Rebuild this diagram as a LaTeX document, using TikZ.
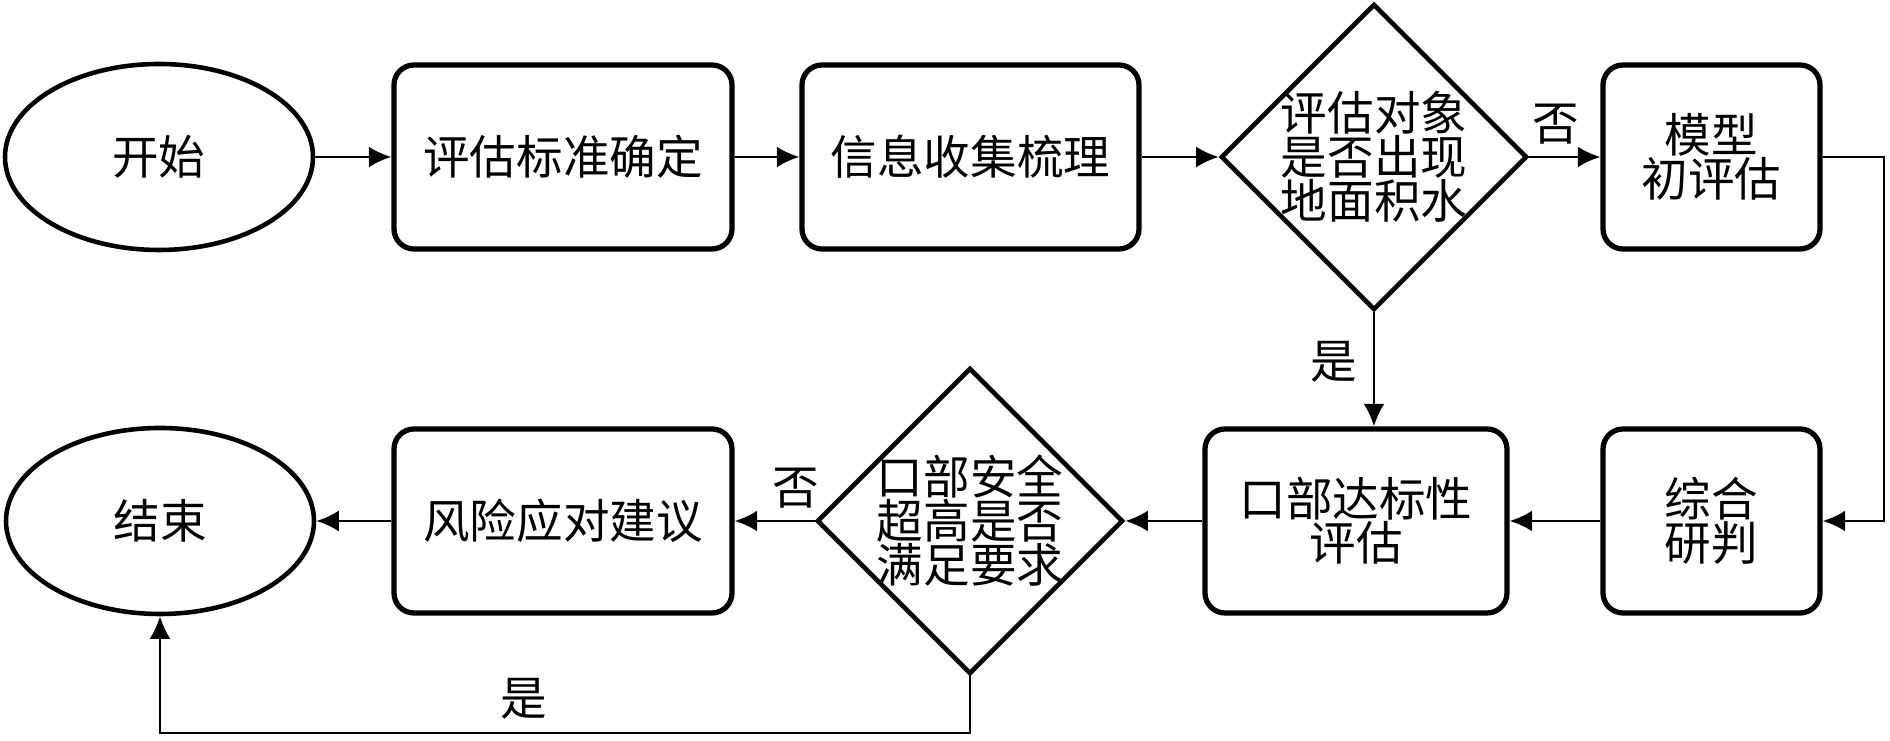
\documentclass[tikz,border=0pt]{standalone}
\usepackage{fontspec}
\setmainfont{Noto Sans CJK SC}
\usetikzlibrary{shapes.geometric,arrows.meta}

\begin{document}
\begin{tikzpicture}[
  box/.style={draw,line width=3pt,rounded corners=0.4cm,minimum height=3.68cm,align=center},
  term/.style={draw,ellipse,line width=2.6pt,minimum width=6.16cm,minimum height=3.72cm},
  decide/.style={draw,diamond,line width=2.6pt,minimum width=6.12cm,minimum height=6.12cm,inner sep=-0.15cm,align=center},
  flow/.style={line width=1.6pt,-{Latex[length=0.45cm,width=0.42cm]}},
  font=\fontsize{26.5pt}{25pt}\selectfont]
  \useasboundingbox (0,0) rectangle (37.8,14.82);

  \node[term] (start) at (3.18,11.68) {开始};
  \node[box,minimum width=6.76cm] (std) at (11.26,11.68) {评估标准确定};
  \node[box,minimum width=6.74cm] (info) at (19.41,11.68) {信息收集梳理};
  \node[decide] (water) at (27.48,11.68) {评估对象\\是否出现\\地面积水};
  \node[box,minimum width=4.34cm] (model) at (34.23,11.68) {模型\\初评估};

  \node[box,minimum width=4.34cm] (judge) at (34.23,4.40) {综合\\研判};
  \node[box,minimum width=6.04cm] (eval) at (27.12,4.40) {口部达标性\\评估};
  \node[decide] (safe) at (19.40,4.40) {口部安全\\超高是否\\满足要求};
  \node[box,minimum width=6.76cm] (advice) at (11.26,4.40) {风险应对建议};
  \node[term] (stop) at (3.20,4.40) {结束};

  \node (no1) at (31.12,12.34) {否};
  \node (yes1) at (26.68,7.58) {是};
  \node (no2) at (15.92,5.06) {否};
  \node (yes2) at (10.48,0.84) {是};

  \coordinate (rt) at (37.68,11.68);
  \coordinate (bt) at (3.20,0.16);

  \draw[flow] (start) -- (std);
  \draw[flow] (std) -- (info);
  \draw[flow] (info) -- (water);
  \draw[flow] (water) -- (model);
  \draw[flow] (model.east) -- (rt) |- (judge.east);
  \draw[flow] (water.south) -- (water.south |- eval.north);
  \draw[flow] (judge) -- (eval);
  \draw[flow] (eval) -- (safe);
  \draw[flow] (safe) -- (advice);
  \draw[flow] (advice) -- (stop);
  \draw[flow] (safe.south) |- (bt) -- (stop.south);
\end{tikzpicture}
\end{document}
